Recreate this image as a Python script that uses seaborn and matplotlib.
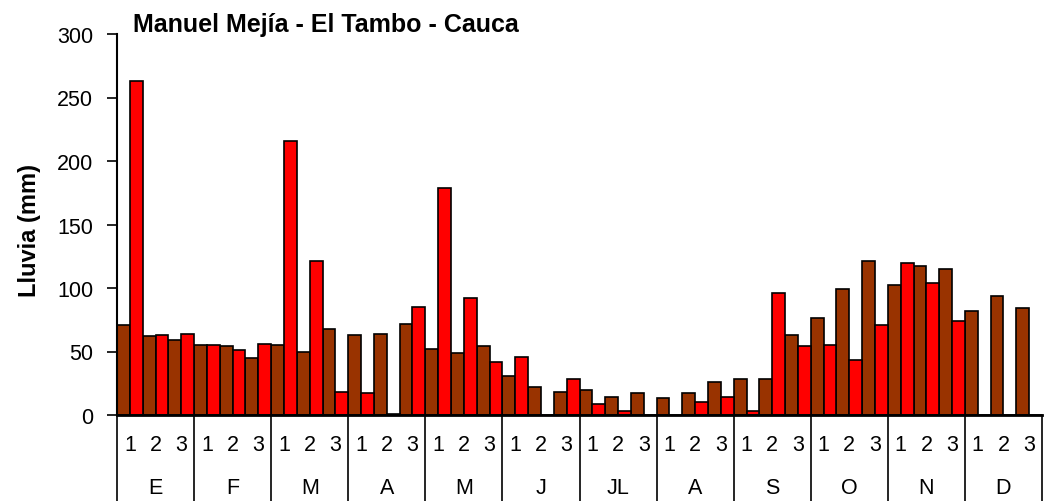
import matplotlib
matplotlib.use("Agg")
import matplotlib.pyplot as plt
import matplotlib.transforms as mtransforms
import seaborn as sns
import numpy as np
import pandas as pd

# ---- data ----
months = ["E", "F", "M", "A", "M", "J", "JL", "A", "S", "O", "N", "D"]
dekad_labels = ["1", "2", "3"]
historico = [71, 62, 59, 55, 54, 45, 55, 50, 68, 63, 64, 72,
             52, 49, 54, 31, 22, 18, 20, 14, 17, 13, 17, 26,
             28, 28, 63, 76, 99, 121, 102, 117, 115, 82, 94, 84]
actual = [263, 63, 64, 55, 51, 56, 216, 121, 18, 17, 1, 85,
          179, 92, 42, 46, 0, 28, 9, 3, 0, 0, 10, 14,
          3, 96, 54, 55, 43, 71, 120, 104, 74, 0, 0, 0]
title = "Manuel Mejía - El Tambo - Cauca"
ylabel = "Lluvia (mm)"

sns.set_style("white")
plt.rcParams["font.family"] = ["Liberation Sans", "DejaVu Sans"]
plt.rcParams["text.color"] = "black"
plt.rcParams["axes.labelcolor"] = "black"
plt.rcParams["ytick.color"] = "black"

n = len(historico)
df = pd.DataFrame({
    "dek": list(range(n)) * 2,
    "val": historico + actual,
    "serie": ["hist"] * n + ["act"] * n,
})

fig = plt.figure(figsize=(10.45, 5.02), dpi=100)
ax = fig.add_axes([117 / 1045, (502 - 416) / 502, (1042 - 117) / 1045, (416 - 35) / 502])

sns.barplot(data=df, x="dek", y="val", hue="serie", hue_order=["hist", "act"],
            order=list(range(n)), palette=["#993300", "#FF0000"], width=1.0,
            saturation=1, edgecolor="black", linewidth=1.2, legend=False, ax=ax)

ax.set_xlim(-0.5, n - 0.5)
ax.set_ylim(0, 300)
ax.set_yticks(range(0, 301, 50))
ax.tick_params(axis="y", direction="out", length=7.2, width=1.2, labelsize=15.5,
               pad=10, left=True, colors="black")
ax.set_xticks([])
ax.set_xlabel("")
ax.set_ylabel(ylabel, fontsize=17, fontweight="bold")
ax.yaxis.set_label_coords(-0.0822, 0.488)
for s in ["top", "right"]:
    ax.spines[s].set_visible(False)
ax.spines["left"].set_linewidth(1.5)
ax.spines["bottom"].set_linewidth(2)
ax.spines["left"].set_color("black")
ax.spines["bottom"].set_color("black")

trans = mtransforms.blended_transform_factory(ax.transData, ax.transAxes)
for i in range(n):
    ax.text(i, -0.0787, dekad_labels[i % 3], transform=trans, ha="center", va="center",
            fontsize=15.5)
for m, name in enumerate(months):
    ax.text(3 * m + 1, -0.1916, name, transform=trans, ha="center", va="center", fontsize=15.5)
for m in range(len(months) + 1):
    x = 3 * m - 0.5
    ax.plot([x, x], [0, -0.24], transform=trans, color="black", lw=1.2, clip_on=False)

fig.text(133 / 1045, 1 - 25 / 502, title, fontsize=18, fontweight="bold", ha="left", va="center")

fig.savefig("out.png", dpi=100)
